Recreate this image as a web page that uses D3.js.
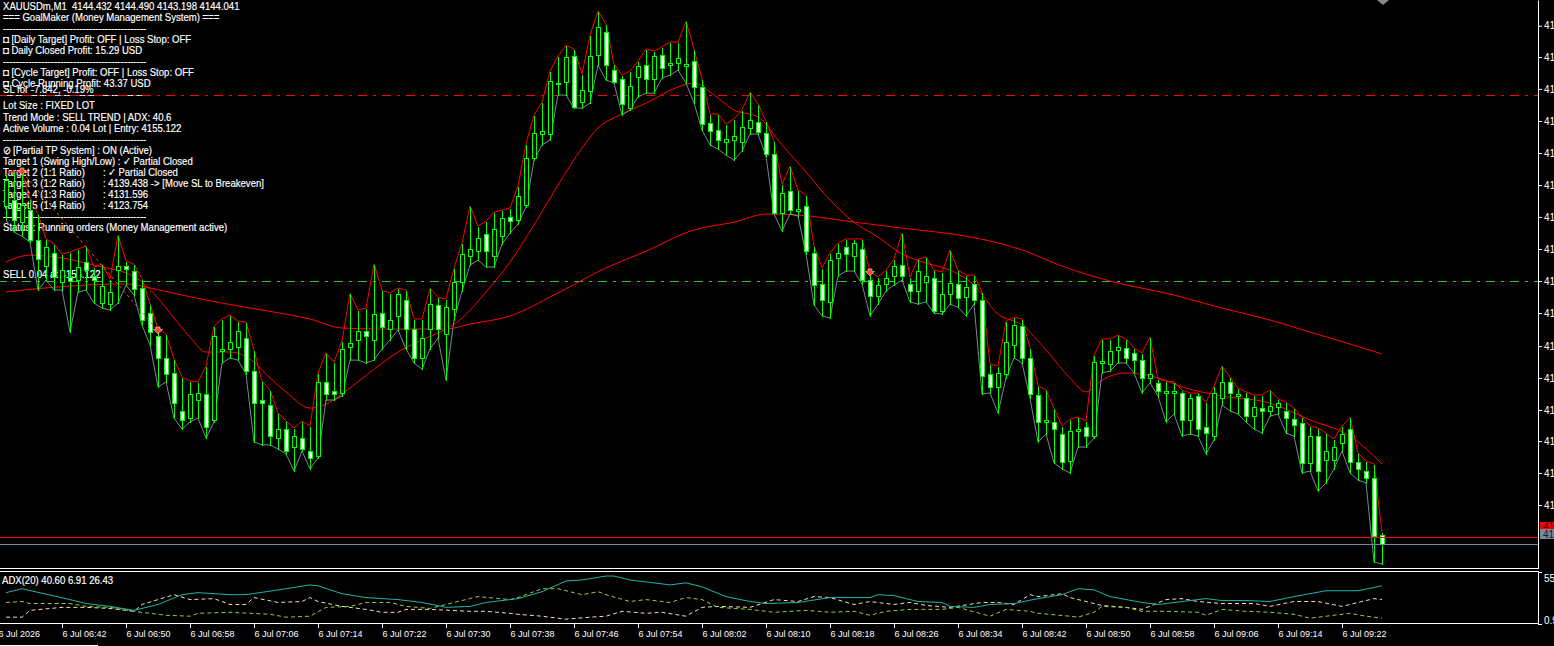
<!DOCTYPE html>
<html><head><meta charset="utf-8">
<script src="https://cdn.jsdelivr.net/npm/d3@7"></script>
<style>
html,body{margin:0;padding:0;background:#000;overflow:hidden}
svg{display:block}
text{font-family:"Liberation Sans",Arial,sans-serif;white-space:pre}
</style></head><body>
<svg id="c" width="1554" height="646"></svg>
<script>
// ---------------- DATA ----------------
const symbol = "XAUUSDm", timeframe = "M1";
const startTime = "2026-07-06T06:35:00";
const opens = [4158.28,4158.53,4157.60,4158.11,4156.85,4155.75,4156.30,4155.08,4155.29,4155.16,4155.92,4155.33,4154.19,4154.15,4155.58,4155.75,4155.54,4154.83,4153.77,4152.80,4151.88,4151.25,4149.65,4149.35,4150.11,4150.36,4149.27,4152.17,4152.26,4152.34,4152.72,4151.33,4150.11,4149.90,4148.51,4148.89,4148.13,4148.51,4147.96,4147.75,4150.87,4150.49,4150.41,4152.34,4152.64,4153.02,4152.64,4153.77,4153.10,4153.65,4154.32,4153.10,4151.88,4153.10,4154.11,4152.89,4153.94,4155.08,4156.17,4156.38,4157.10,4156.17,4157.01,4157.81,4157.69,4158.32,4160.30,4161.31,4161.31,4163.41,4163.50,4164.59,4162.66,4163.12,4164.63,4165.60,4164.00,4163.62,4162.40,4163.71,4164.21,4163.62,4164.63,4164.21,4164.30,4164.17,4164.38,4163.29,4161.77,4161.48,4160.97,4161.06,4160.97,4161.56,4161.81,4161.35,4160.47,4157.98,4158.91,4158.07,4158.28,4156.30,4155.00,4154.24,4156.09,4156.55,4156.17,4156.47,4155.16,4154.49,4155.00,4155.33,4155.79,4155.00,4154.70,4155.08,4155.25,4153.86,4154.57,4155.00,4154.45,4155.00,4154.32,4151.21,4150.66,4151.21,4152.43,4153.23,4151.88,4150.32,4149.18,4149.18,4148.68,4147.54,4148.81,4148.97,4148.59,4151.67,4151.63,4152.22,4152.30,4152.09,4151.79,4151.04,4150.83,4150.41,4150.41,4150.41,4149.27,4150.28,4148.97,4148.59,4150.19,4150.87,4150.28,4150.19,4149.44,4149.77,4149.65,4149.82,4149.65,4149.31,4149.14,4147.46,4148.59,4147.58,4147.58,4148.30,4148.89,4147.50,4147.12,4146.83,4144.432];
const highs = [4159.58,4159.71,4159.63,4158.53,4157.90,4156.85,4156.64,4156.21,4156.30,4156.43,4156.55,4155.67,4155.79,4155.16,4157.01,4155.92,4155.79,4155.16,4154.11,4153.06,4152.85,4151.79,4151.04,4150.87,4150.83,4151.50,4153.18,4153.48,4153.65,4153.39,4153.35,4152.17,4150.87,4150.49,4149.52,4149.18,4148.89,4149.18,4148.97,4151.21,4152.05,4151.67,4152.55,4154.57,4153.86,4153.94,4155.79,4154.70,4154.57,4154.78,4154.70,4153.48,4153.48,4154.78,4154.40,4154.32,4155.63,4156.68,4158.24,4157.39,4157.60,4157.98,4158.07,4158.15,4159.08,4160.85,4162.07,4162.61,4163.92,4164.55,4165.01,4164.85,4163.79,4165.43,4166.45,4165.90,4164.21,4163.75,4163.92,4164.34,4164.85,4164.76,4164.93,4165.14,4165.14,4166.02,4164.85,4163.58,4162.11,4162.11,4161.69,4161.90,4162.28,4163.03,4162.53,4161.81,4160.97,4159.16,4159.92,4158.91,4158.70,4156.55,4155.63,4156.26,4156.68,4156.85,4156.85,4156.85,4155.46,4155.25,4155.54,4156.00,4157.10,4155.25,4156.00,4156.09,4155.54,4155.46,4156.38,4155.54,4155.33,4155.33,4154.62,4151.58,4151.50,4153.39,4153.56,4153.48,4152.26,4150.66,4150.49,4149.73,4148.97,4149.27,4149.35,4149.18,4151.96,4152.64,4152.64,4152.80,4152.64,4152.26,4152.05,4152.72,4150.95,4150.87,4150.83,4150.49,4150.36,4150.36,4149.98,4150.66,4151.50,4151.04,4150.57,4150.41,4150.28,4150.28,4150.49,4150.11,4149.98,4149.73,4149.35,4148.97,4148.89,4148.68,4148.43,4148.97,4149.35,4147.84,4147.50,4147.37,4144.490];
const lows = [4157.69,4157.18,4157.01,4156.76,4154.74,4155.16,4154.74,4154.74,4152.97,4154.66,4154.74,4154.19,4153.98,4153.90,4154.19,4154.95,4154.53,4153.27,4152.43,4150.66,4150.87,4149.35,4148.89,4149.18,4149.35,4148.51,4149.18,4151.67,4151.88,4151.79,4151.21,4148.34,4148.22,4148.22,4148.05,4147.84,4147.12,4147.96,4147.21,4147.67,4150.11,4150.11,4150.28,4151.79,4151.79,4151.67,4151.79,4152.26,4152.64,4153.06,4152.26,4151.67,4151.41,4152.26,4152.72,4150.95,4153.48,4154.70,4155.79,4156.00,4155.71,4155.71,4156.68,4157.14,4157.52,4158.24,4160.21,4160.85,4161.06,4162.95,4162.95,4162.40,4162.40,4162.61,4164.21,4163.58,4163.46,4162.11,4162.32,4162.87,4163.03,4163.03,4163.67,4163.79,4164.00,4163.46,4162.61,4161.48,4160.85,4160.68,4160.42,4160.21,4160.59,4161.31,4161.31,4160.38,4157.94,4157.23,4157.94,4157.86,4156.26,4154.11,4153.65,4153.56,4155.33,4155.54,4155.54,4155.00,4153.65,4154.15,4154.70,4154.95,4155.16,4154.24,4154.15,4154.24,4153.77,4153.73,4154.15,4154.02,4153.65,4154.15,4150.36,4150.41,4149.56,4151.04,4151.88,4151.67,4150.19,4148.34,4148.68,4147.46,4147.21,4147.04,4148.13,4148.13,4148.51,4151.25,4151.33,4151.67,4151.67,4151.25,4150.41,4150.83,4150.28,4149.18,4149.52,4148.59,4148.68,4148.59,4147.84,4148.43,4149.90,4149.65,4149.52,4149.18,4148.89,4148.72,4149.44,4149.52,4148.72,4148.59,4147.04,4147.12,4146.28,4146.62,4147.21,4147.96,4147.04,4146.74,4146.62,4143.29,4143.198];
const closes = [4159.37,4157.69,4158.32,4156.85,4156.05,4156.55,4155.29,4155.58,4155.12,4155.71,4155.58,4155.16,4154.91,4154.66,4155.75,4155.63,4154.78,4153.48,4152.97,4151.88,4151.21,4149.98,4149.27,4150.36,4150.41,4148.97,4152.80,4152.26,4152.55,4153.02,4151.33,4149.98,4149.98,4148.59,4148.89,4147.96,4148.59,4148.05,4147.67,4150.87,4150.36,4150.36,4152.26,4152.51,4153.02,4152.80,4153.73,4153.18,4153.48,4154.57,4153.10,4151.88,4152.72,4154.15,4153.10,4154.02,4155.08,4156.26,4156.47,4156.93,4156.38,4157.31,4157.77,4157.65,4158.70,4160.30,4161.35,4161.44,4163.54,4163.46,4164.55,4162.45,4163.16,4164.59,4165.81,4164.21,4163.50,4162.57,4163.33,4164.17,4163.62,4164.59,4164.09,4164.30,4164.51,4164.26,4163.29,4161.73,4161.44,4161.06,4161.10,4161.22,4161.60,4161.90,4161.39,4160.47,4157.98,4158.83,4158.11,4158.15,4156.38,4154.95,4154.32,4156.00,4156.30,4156.26,4156.72,4155.16,4154.49,4154.95,4155.25,4155.75,4155.33,4154.70,4155.54,4155.33,4153.86,4154.57,4155.04,4154.40,4154.87,4154.32,4151.12,4150.66,4151.25,4152.55,4153.27,4151.88,4150.36,4149.18,4149.27,4148.89,4147.50,4148.81,4148.89,4148.59,4151.71,4151.75,4152.17,4152.34,4151.88,4151.79,4151.04,4151.21,4150.49,4150.49,4150.49,4149.27,4150.19,4148.89,4148.72,4150.41,4150.87,4150.41,4150.36,4149.44,4149.82,4149.65,4149.86,4149.98,4149.35,4149.06,4147.46,4148.59,4147.12,4147.96,4148.13,4148.68,4147.50,4147.21,4146.83,4144.38,4144.041];

// moving averages (bar index, price)
const maFastIdx = [0,3,7,12,15,17,19,21,23,25,28,31,33,35,38,40,43,46,49,52,55,57,60,63,66,69,72,74,77,80,84,86,88,91,94,97,100,103,106,109,112,115,118,121,124,127,130,133,135,137,140,144,147,152,158,163,168,172];
const maFastVal = [4155.92,4156.21,4156.09,4155.71,4155.46,4155.08,4154.40,4153.56,4152.76,4152.13,4152.13,4151.71,4151.04,4150.45,4149.77,4149.94,4150.62,4151.41,4152.13,4152.64,4153.10,4153.56,4154.66,4155.92,4157.48,4159.16,4160.72,4161.56,4162.15,4162.61,4163.29,4163.46,4163.08,4162.32,4162.03,4160.85,4159.71,4158.53,4157.60,4156.97,4156.26,4155.88,4155.58,4154.95,4153.73,4153.27,4152.22,4151.04,4150.45,4150.95,4151.25,4151.04,4150.66,4150.28,4149.98,4149.27,4148.59,4147.42];
const maSlowIdx = [0,5,10,15,18,22,27,32,38,42,47,55,58,63,69,75,80,86,91,95,99,106,113,120,127,132,138,146,152,158,163,168,172];
const maSlowVal = [4154.66,4154.83,4154.95,4155.00,4154.83,4154.53,4154.19,4153.90,4153.52,4153.14,4153.10,4153.10,4153.31,4153.65,4154.62,4155.67,4156.38,4157.27,4157.60,4157.94,4157.90,4157.60,4157.31,4157.01,4156.43,4155.75,4155.12,4154.53,4153.98,4153.48,4152.97,4152.47,4152.05];

// ADX(20) panel (bar index, value)
const adxIdx = [0,2,8,10,13,16,19,22,24,28,30,35,38,39,42,45,49,52,55,58,60,64,67,70,72,75,76,78,83,85,87,90,93,95,99,103,108,109,111,114,117,118,121,123,126,129,132,134,136,138,142,144,148,150,152,155,158,161,165,167,169,172];
const adxVal = [33.5,37.6,26.3,22.2,19.2,15.1,21.2,31.4,33.5,31.4,31.4,37.6,41.6,40.6,32.4,28.4,26.3,23.3,18.2,19.2,23.3,27.3,34.5,45.7,46.7,50.8,50.8,46.7,41.6,43.7,39.6,29.4,24.3,22.2,23.3,28.4,28.4,31.4,30.4,24.3,23.3,19.2,18.2,21.2,22.2,27.3,31.4,37.6,36.5,29.4,23.3,21.2,25.3,27.3,25.3,25.3,24.3,29.4,35.5,35.5,35.5,40.60];
const pdiIdx = [0,2,3,8,10,13,16,18,20,23,24,28,33,35,38,40,43,45,48,50,53,56,59,63,64,67,69,72,74,75,78,80,83,85,87,89,93,96,100,103,106,108,110,113,117,119,123,125,128,129,133,134,136,137,140,142,145,149,150,152,155,158,161,163,165,168,170,172];
const pdiVal = [23.3,24.3,22.2,22.2,19.2,18.2,14.1,12.0,10.0,9.0,12.0,13.1,11.0,8.0,9.0,18.2,19.2,23.3,23.3,19.2,17.1,23.3,29.4,26.3,28.4,37.6,37.6,31.4,34.5,31.4,24.3,26.3,23.3,28.4,26.3,18.2,16.1,13.1,15.1,13.1,14.1,10.0,14.1,16.1,16.1,18.2,9.0,16.1,14.1,12.0,9.0,8.0,13.1,19.2,18.2,14.1,14.1,13.1,10.0,16.1,14.1,13.1,11.0,6.9,9.0,12.0,9.0,6.91];
const mdiIdx = [0,2,3,7,10,13,16,17,19,21,23,26,28,30,31,34,37,38,39,42,45,47,49,50,53,58,60,63,64,67,70,73,75,77,80,82,85,87,89,93,96,99,101,103,106,108,111,113,115,118,122,124,126,128,129,132,133,137,140,142,145,147,149,152,156,158,161,164,167,169,171,172];
const mdiVal = [8.0,8.0,15.1,18.2,18.2,17.1,14.1,21.2,26.3,31.4,26.3,27.3,21.2,21.2,28.4,23.3,24.3,28.4,24.3,19.2,16.1,13.1,13.1,16.1,16.1,14.1,14.1,12.0,11.0,9.0,5.9,8.0,9.0,14.1,12.0,13.1,9.0,18.2,19.2,18.2,26.3,24.3,29.4,28.4,21.2,24.3,21.2,23.3,20.2,18.2,23.3,23.3,21.2,31.4,29.4,32.4,28.4,20.2,18.2,16.1,26.3,27.3,24.3,22.2,22.2,19.2,24.3,24.3,19.2,23.3,27.3,26.43];

// trade levels and deals
const slPrice = 4162.964, entryPrice = 4155.122, bidPrice = 4144.041, askPrice = 4144.34;
const dealIdx = [2, 19, 108];
const dealPrice = [4159.71, 4153.02, 4155.46];

// axis labels
const priceTicks = [4165.87,4164.55,4163.21,4161.86,4160.51,4159.16,4157.82,4156.47,4155.12,4153.77,4152.38,4151.04,4149.69,4148.38,4147.04,4145.69];
const tickTimes = ["06:34","06:42","06:50","06:58","07:06","07:14","07:22","07:30","07:38","07:46","07:54","08:02","08:10","08:18","08:26","08:34","08:42","08:50","08:58","09:06","09:14","09:22"];
const tickLabels = ["6 Jul 2026","6 Jul 06:42","6 Jul 06:50","6 Jul 06:58","6 Jul 07:06","6 Jul 07:14","6 Jul 07:22","6 Jul 07:30","6 Jul 07:38","6 Jul 07:46","6 Jul 07:54","6 Jul 08:02","6 Jul 08:10","6 Jul 08:18","6 Jul 08:26","6 Jul 08:34","6 Jul 08:42","6 Jul 08:50","6 Jul 08:58","6 Jul 09:06","6 Jul 09:14","6 Jul 09:22"];
const adxTicks = [0.9, 55];

// EA comment panel
const commentLines = [
  null,
  "=== GoalMaker (Money Management System) ===",
  "---------------------------------------------",
  "\u25D8 [Daily Target] Profit: OFF | Loss Stop: OFF",
  "\u25D8 Daily Closed Profit: 15.29 USD",
  "---------------------------------------------",
  "\u25D8 [Cycle Target] Profit: OFF | Loss Stop: OFF",
  "\u25D8 Cycle Running Profit: 43.37 USD",
  "---------------------------------------------",
  "Lot Size : FIXED LOT",
  "Trend Mode : SELL TREND | ADX: 40.6",
  "Active Volume : 0.04 Lot | Entry: 4155.122",
  "---------------------------------------------",
  "\u2298 [Partial TP System] : ON (Active)",
  "Target 1 (Swing High/Low) : \u2713 Partial Closed",
  ["Target 2 (1:1 Ratio)", ": \u2713 Partial Closed"],
  ["Target 3 (1:2 Ratio)", ": 4139.438 -> [Move SL to Breakeven]"],
  ["Target 4 (1:3 Ratio)", ": 4131.596"],
  ["Target 5 (1:4 Ratio)", ": 4123.754"],
  "---------------------------------------------",
  "Status : Running orders (Money Management active)"
];
const slLabel = "SL for -7.842, -0.19%";
const orderLabel = "SELL 0.04 at 4155.122";

// ---------------- DRAW ----------------
const svg = d3.select("#c");
const LIME = "#00ff00", RED = "#ff0000", GRAY = "#778899", ENTRY_GREEN = "#22cc22";
const plotR = 1538, mainB = 568, adxT = 572, adxB = 623;

const t0 = new Date(startTime);
const times = opens.map((_, i) => d3.timeMinute.offset(t0, i));
const x = d3.scaleTime().domain([times[0], times[times.length - 1]]).range([6, 1382]);
const xi = i => x(d3.timeMinute.offset(t0, i));
const y = d3.scaleLinear().domain([4143.037, 4166.953]).range([mainB, 0]);
const yA = d3.scaleLinear().domain([0.9, 55]).range([624, 572]);

function fitSize(str, target, base) {
  const t = svg.append("text").style("font-size", base + "px").text(str);
  const w = t.node().getComputedTextLength(); t.remove();
  return base * target / w;
}
const fsInfo = (fitSize("Status : Running orders (Money Management active)", 219, 10) +
                fitSize("=== GoalMaker (Money Management System) ===", 222, 10)) / 2;
const fsAxis = fitSize("6 Jul 06:42", 44, 9);

const defs = svg.append("defs");
defs.append("clipPath").attr("id", "mainClip")
  .append("rect").attr("x", 0).attr("y", 0).attr("width", plotR).attr("height", mainB);
defs.append("clipPath").attr("id", "adxClip")
  .append("rect").attr("x", 0).attr("y", adxT).attr("width", plotR).attr("height", adxB - adxT);

// comment text (background layer) - slightly taller to mimic the terminal font
const tg = svg.append("g").attr("fill", "#fff").attr("stroke", "#fff").attr("stroke-width", 0.15)
  .style("font-size", fsInfo + "px");
const addText = (g, tx, ty, str) =>
  g.append("text").attr("transform", `translate(${tx},${ty}) scale(1,1.14)`).text(str);
const f3 = d3.format(".3f");
const n = opens.length - 1;
commentLines[0] = `${symbol},${timeframe}  ${f3(opens[n])} ${f3(highs[n])} ${f3(lows[n])} ${f3(closes[n])}`;
commentLines.forEach((ln, i) => {
  const by = 10 + 11.05 * i;
  if (Array.isArray(ln)) {
    addText(tg, 3, by, ln[0]);
    addText(tg, 103, by, ln[1]);
  } else {
    addText(tg, 3, by, ln);
  }
});
addText(tg, 3, 93, slLabel);
addText(tg, 3, 278, orderLabel);

const mg = svg.append("g").attr("clip-path", "url(#mainClip)");

// trade levels (SL red, entry green): dash-dot pattern 9-6-3-6
const levels = [{p: slPrice, col: RED}, {p: entryPrice, col: ENTRY_GREEN}];
const dashPattern = [[0, 9], [15, 3]];
levels.forEach(lv => {
  const yy = Math.round(y(lv.p));
  const lg = mg.append("g").attr("fill", lv.col).attr("shape-rendering", "crispEdges");
  d3.range(-2, plotR, 24).forEach(x0 => {
    dashPattern.forEach(([off, len]) => {
      lg.append("rect").attr("x", x0 + off).attr("y", yy).attr("width", len).attr("height", 1);
    });
  });
});

// moving averages
mg.append("path").datum(maSlowIdx.map((k, i) => [xi(k), y(maSlowVal[i])]))
  .attr("d", d3.line().curve(d3.curveMonotoneX)).attr("fill", "none").attr("stroke", RED);
mg.append("path").datum(maFastIdx.map((k, i) => [xi(k), y(maFastVal[i])]))
  .attr("d", d3.line().curve(d3.curveMonotoneX)).attr("fill", "none").attr("stroke", RED);

// high / low envelope lines
mg.append("path").datum(highs.map((h, i) => [xi(i), y(h) - 1]))
  .attr("d", d3.line()).attr("fill", "none").attr("stroke", RED);
mg.append("path").datum(lows.map((l, i) => [xi(i), y(l)]))
  .attr("d", d3.line()).attr("fill", "none").attr("stroke", GRAY);

// candles
const cg = mg.append("g").attr("shape-rendering", "crispEdges");
opens.forEach((o, i) => {
  const c = closes[i];
  const cx = Math.round(xi(i));
  const yh = Math.round(y(highs[i])), yl = Math.round(y(lows[i]));
  cg.append("line").attr("x1", cx + 0.5).attr("x2", cx + 0.5).attr("y1", yh).attr("y2", yl + 1).attr("stroke", LIME);
  const yt = Math.round(y(Math.max(o, c))), yb = Math.round(y(Math.min(o, c)));
  if (yb - yt < 1) {
    cg.append("line").attr("x1", cx - 2).attr("x2", cx + 3).attr("y1", yt + 0.5).attr("y2", yt + 0.5).attr("stroke", LIME);
  } else {
    cg.append("rect").attr("x", cx - 1.5).attr("y", yt + 0.5).attr("width", 4).attr("height", yb - yt)
      .attr("fill", c >= o ? "#000" : "#fff").attr("stroke", LIME);
  }
});

// deal history line + arrows
mg.append("line").attr("x1", xi(dealIdx[0])).attr("y1", y(dealPrice[0]))
  .attr("x2", xi(dealIdx[1])).attr("y2", y(dealPrice[1]))
  .attr("stroke", "#e0502a").attr("stroke-dasharray", "3,3");
dealIdx.forEach((k, i) => {
  const ax = xi(k), ay = y(dealPrice[i]);
  mg.append("path").attr("d", `M${ax - 2},${ay - 4}h4v2.5h2.5l-4.5,4.5l-4.5,-4.5h2.5z`)
    .attr("fill", "#f04a28").attr("stroke", "#ffd0c0").attr("stroke-width", 0.6);
});

// bid / ask
[{p: askPrice, col: RED}, {p: bidPrice, col: GRAY}].forEach(lv => {
  const yy = Math.round(y(lv.p)) + 0.5;
  svg.append("line").attr("x1", 0).attr("x2", plotR).attr("y1", yy).attr("y2", yy).style("stroke", lv.col);
});

// chart shift marker
svg.append("path").attr("d", "M1377,0L1389,0L1383,5Z").attr("fill", "#8a8a8a");

// ADX panel
const ag = svg.append("g").attr("clip-path", "url(#adxClip)");
ag.append("path").datum(mdiIdx.map((k, i) => [xi(k), yA(mdiVal[i])]))
  .attr("d", d3.line()).attr("fill", "none").attr("stroke", "#f5deb3").attr("stroke-dasharray", "4,3");
ag.append("path").datum(pdiIdx.map((k, i) => [xi(k), yA(pdiVal[i])]))
  .attr("d", d3.line()).attr("fill", "none").attr("stroke", "#9acd32").attr("stroke-dasharray", "4,3");
ag.append("path").datum(adxIdx.map((k, i) => [xi(k), yA(adxVal[i])]))
  .attr("d", d3.line()).attr("fill", "none").attr("stroke", "#20b2aa");
const f2 = d3.format(".2f");
const adxG = svg.append("g").attr("fill", "#fff").attr("stroke", "#fff").attr("stroke-width", 0.15).style("font-size", fsInfo + "px");
addText(adxG, 2, 584, `ADX(20) ${f2(adxVal[adxVal.length-1])} ${f2(pdiVal[pdiVal.length-1])} ${f2(mdiVal[mdiVal.length-1])}`);

// borders
const bg = svg.append("g").attr("stroke", "#fff").attr("shape-rendering", "crispEdges");
[mainB + 0.5, adxT - 0.5, adxB + 0.5].forEach(yy => bg.append("line").attr("x1", 0).attr("x2", plotR + 1).attr("y1", yy).attr("y2", yy));
bg.append("line").attr("x1", 0).attr("x2", 98).attr("y1", 645.5).attr("y2", 645.5);

// price axis
const gY = svg.append("g").attr("transform", `translate(${plotR},0)`)
  .call(d3.axisRight(y).tickValues(priceTicks).tickSize(4).tickSizeOuter(0).tickFormat(d3.format(".2f")));
gY.select(".domain").attr("stroke", "#fff");
gY.selectAll(".tick line").attr("stroke", "#fff");
gY.selectAll(".tick text").attr("fill", "#fff").attr("x", 6).style("font-size", (fsAxis + 1) + "px").style("font-family", '"Liberation Sans",Arial,sans-serif');

// adx axis
const gA = svg.append("g").attr("transform", `translate(${plotR},0)`)
  .call(d3.axisRight(yA).tickValues(adxTicks).tickSize(4).tickSizeOuter(0).tickFormat(d3.format(".2f")));
gA.select(".domain").attr("stroke", "#fff");
gA.selectAll(".tick line").attr("stroke", "#fff");
gA.selectAll(".tick text").attr("fill", "#fff").attr("x", 6).style("font-size", (fsAxis + 1) + "px")
  .style("font-family", '"Liberation Sans",Arial,sans-serif')
  .attr("dy", d => d > 10 ? "0.95em" : "-0.1em");

// price tags (ask/bid)
const tagG = svg.append("g");
tagG.append("rect").attr("x", plotR + 2).attr("y", 522).attr("width", 20).attr("height", 10).attr("fill", RED);
tagG.append("text").attr("x", plotR + 5).attr("y", 530).attr("fill", "#300").style("font-size", (fsAxis + 1) + "px").text(d3.format(".2f")(askPrice));
tagG.append("rect").attr("x", plotR + 2).attr("y", 529).attr("width", 20).attr("height", 10).attr("fill", GRAY);
tagG.append("text").attr("x", plotR + 5).attr("y", 537.5).attr("fill", "#102030").style("font-size", (fsAxis + 1) + "px").text(d3.format(".2f")(bidPrice));

// time axis
const parseHM = s => { const [h, m] = s.split(":").map(Number); const d = new Date(t0); d.setHours(h, m, 0, 0); return d; };
const gX = svg.append("g").attr("transform", `translate(0,${adxB + 1})`)
  .call(d3.axisBottom(x).tickValues(tickTimes.map(parseHM)).tickSize(4).tickFormat((d, i) => tickLabels[i]));
gX.select(".domain").remove();
gX.selectAll(".tick line").attr("stroke", "#fff");
gX.selectAll(".tick text").attr("fill", "#fff").attr("text-anchor", "start").attr("x", 0)
  .style("font-size", fsAxis + "px").style("font-family", '"Liberation Sans",Arial,sans-serif');
</script>
</body></html>
